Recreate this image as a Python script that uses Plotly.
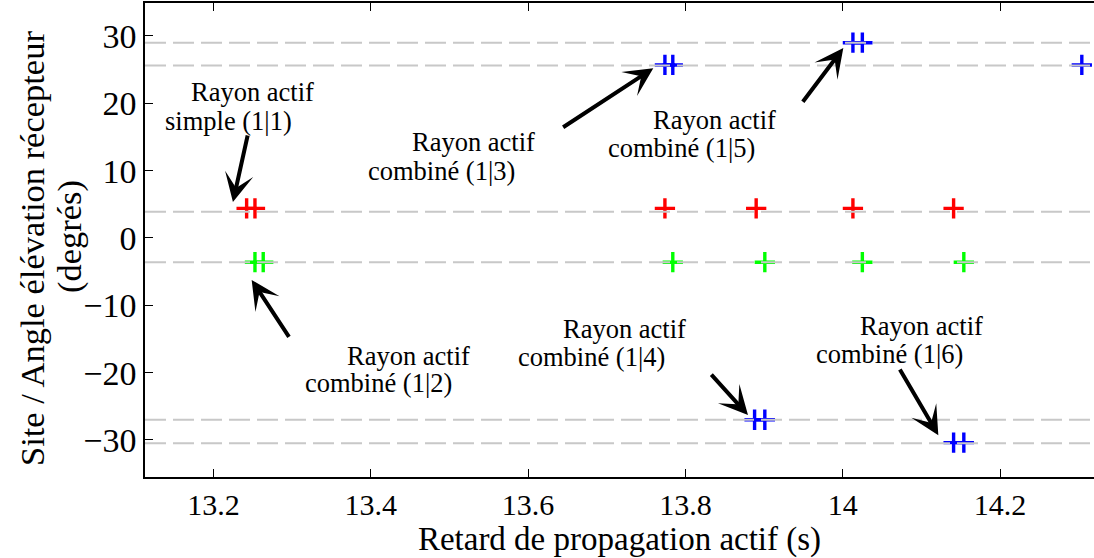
import plotly.graph_objects as go

# ---------------- data ----------------
red_x = [13.2422, 13.2528, 13.774, 13.890, 14.013, 14.141]
red_y = [4.4, 4.4, 4.4, 4.4, 4.4, 4.4]
green_x = [13.2528, 13.2633, 13.784, 13.901, 14.025, 14.154]
green_y = [-3.6, -3.6, -3.6, -3.6, -3.6, -3.6]
blue_x = [13.774, 13.784, 14.013, 14.025, 13.888, 13.901, 14.141, 14.154, 14.304]
blue_y = [25.7, 25.7, 29.0, 29.0, -27.0, -27.0, -30.4, -30.4, 25.7]

ref_lines_y = [29.0, 25.6, 3.9, -3.6, -27.0, -30.5]

x_ticks = [13.2, 13.4, 13.6, 13.8, 14.0, 14.2]
x_tick_labels = ["13.2", "13.4", "13.6", "13.8", "14", "14.2"]
y_ticks = [-30, -20, -10, 0, 10, 20, 30]
x_range = [13.113, 14.3195]
y_range = [-35.5, 34.9]

# label lines (text, x centre, y centre)
label_line1 = ["Rayon actif"] * 6
label_line2 = ["simple (1|1)", "combiné (1|3)", "combiné (1|5)",
               "combiné (1|2)", "combiné (1|4)", "combiné (1|6)"]
label1_x = [13.2496, 13.5312, 13.8364, 13.4486, 13.7232, 14.0996]
label1_y = [21.7, 14.3, 17.5, -17.5, -13.5, -13.1]
label2_x = [13.2197, 13.4899, 13.7950, 13.4098, 13.6806, 14.0595]
label2_y = [17.4, 10.0, 13.4, -21.5, -17.7, -17.2]

# arrows: tail -> tip
arrow_tail_x = [13.2439, 13.6427, 13.9479, 13.2973, 13.8313, 14.0716]
arrow_tail_y = [15.45, 16.3, 20.0, -14.9, -20.06, -19.3]
arrow_tip_x = [13.2248, 13.7592, 14.0008, 13.2486, 13.8796, 14.1216]
arrow_tip_y = [5.35, 25.2, 28.2, -6.24, -26.3, -29.3]

FONT = "Liberation Serif"

fig = go.Figure()

for xs, ys, col in [(red_x, red_y, "#FF0000"), (green_x, green_y, "#00FF00"), (blue_x, blue_y, "#0000FF")]:
    fig.add_trace(go.Scatter(x=xs, y=ys, mode="markers",
                             marker=dict(symbol="cross-thin", size=14.5, color=col,
                                         line=dict(width=3.4, color=col)),
                             showlegend=False, hoverinfo="skip"))

for yv in ref_lines_y:
    fig.add_shape(type="line", xref="paper", x0=0, x1=1, yref="y", y0=yv, y1=yv,
                  line=dict(color="#C8C8C8", width=2, dash="21px,7px"), layer="above")

for t, xx, yy in zip(label_line1, label1_x, label1_y):
    fig.add_annotation(x=xx, y=yy, text=t, showarrow=False, xanchor="center", yanchor="middle",
                       borderpad=0, font=dict(family=FONT, size=26.5, color="black"))
for t, xx, yy in zip(label_line2, label2_x, label2_y):
    fig.add_annotation(x=xx, y=yy, text=t, showarrow=False, xanchor="center", yanchor="middle",
                       borderpad=0, font=dict(family=FONT, size=26.5, color="black"))

for tx, ty, hx, hy in zip(arrow_tail_x, arrow_tail_y, arrow_tip_x, arrow_tip_y):
    fig.add_annotation(x=hx, y=hy, ax=tx, ay=ty, axref="x", ayref="y", xref="x", yref="y",
                       text="", showarrow=True, arrowhead=3, arrowsize=1.2, arrowwidth=4,
                       arrowcolor="black")

# y axis title as two rotated lines
fig.add_annotation(xref="paper", yref="paper", x=(32 - 145) / 949, y=(477 - 249) / 474,
                   text="Site / Angle élévation récepteur", textangle=-90, showarrow=False,
                   xanchor="center", yanchor="middle", font=dict(family=FONT, size=34.5, color="black"))
fig.add_annotation(xref="paper", yref="paper", x=(70 - 145) / 949, y=(477 - 237) / 474,
                   text="(degrés)", textangle=-90, showarrow=False,
                   xanchor="center", yanchor="middle", font=dict(family=FONT, size=34.5, color="black"))

fig.update_layout(
    width=1094, height=558, autosize=False,
    margin=dict(l=145, r=0, t=3, b=81),
    paper_bgcolor="white", plot_bgcolor="white",
    font=dict(family=FONT, color="black"),
    xaxis=dict(range=x_range, tickvals=x_ticks, ticktext=x_tick_labels, ticks="inside", ticklen=8,
               tickwidth=1, tickcolor="black", showline=True, linecolor="black", linewidth=1.5,
               mirror="ticks", showgrid=False, zeroline=False,
               tickfont=dict(family=FONT, size=30, color="black"),
               title=dict(text="Retard de propagation actif (s)", font=dict(family=FONT, size=33, color="black"),
                          standoff=4)),
    yaxis=dict(range=y_range, tickvals=y_ticks, ticks="inside", ticklen=8, tickwidth=1, tickcolor="black",
               showline=True, linecolor="black", linewidth=1.5, mirror=False, showgrid=False, zeroline=False,
               tickfont=dict(family=FONT, size=34, color="black")),
)

fig.write_html("out.html", config={"displayModeBar": False},
               post_script="document.body.style.margin='0px';document.body.style.overflow='hidden';")
